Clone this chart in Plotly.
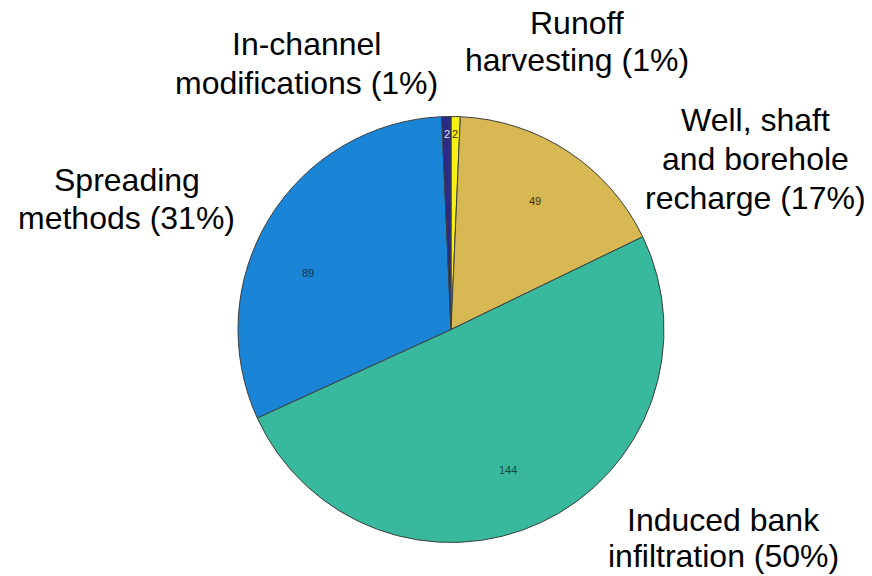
import math
import plotly.graph_objects as go

# Managed aquifer recharge schemes by type (number of sites)
categories = [
    "Runoff harvesting",
    "Well, shaft and borehole recharge",
    "Induced bank infiltration",
    "Spreading methods",
    "In-channel modifications",
]
counts = [2, 49, 144, 89, 2]
colors = ["#F6F013", "#D8B853", "#38B89C", "#1A85D6", "#2B2A86"]
value_text_colors = ["#35350c", "#3e3210", "#174a3f", "#0b3260", "#e6e6f2"]

# Label lines shown around the pie (percent appended from the counts)
label_lines = [
    ["Runoff", "harvesting"],
    ["Well, shaft", "and borehole", "recharge"],
    ["Induced bank", "infiltration"],
    ["Spreading", "methods"],
    ["In-channel", "modifications"],
]

W, H = 872, 576
CX, CY, R = 451, 329.5, 213  # pie centre and radius in pixels
total = sum(counts)
percents = [round(c / total * 100) for c in counts]

fig = go.Figure()
fig.add_trace(
    go.Pie(
        labels=categories,
        values=counts,
        sort=False,
        direction="clockwise",
        rotation=0,
        marker=dict(colors=colors, line=dict(color="#3c3f3f", width=1)),
        textinfo="none",
        showlegend=False,
        hoverinfo="label+value+percent",
        domain=dict(x=[(CX - R) / W, (CX + R) / W],
                    y=[1 - (CY + R) / H, 1 - (CY - R) / H]),
    )
)

# Count labels inside each slice, placed along the slice's mid-angle
radial_frac = [0.92, 0.72, 0.71, 0.72, 0.92]
angle_nudge = [0, 0, 3, -10, 0]
start = 0.0
for c, col, frac, nudge in zip(counts, value_text_colors, radial_frac, angle_nudge):
    sweep = c / total * 360
    mid = math.radians(start + sweep / 2 + nudge)
    start += sweep
    px = CX + frac * R * math.sin(mid)
    py = CY - frac * R * math.cos(mid)
    fig.add_annotation(
        text=str(c),
        xref="paper", yref="paper",
        x=px / W, y=1 - py / H,
        xanchor="center", yanchor="middle",
        showarrow=False,
        font=dict(family="Liberation Sans, Arial", size=11, color=col),
    )

# Outside label placement: (center x, first line center y, line step) in pixels
label_pos = [
    (577, 23, 37),
    (755, 120, 39),
    (723, 520, 36),
    (127, 180, 38),
    (306, 44, 39),
]

for lines, pct, (px, py, step) in zip(label_lines, percents, label_pos):
    lines = lines[:-1] + [f"{lines[-1]} ({pct}%)"]
    for i, line in enumerate(lines):
        fig.add_annotation(
            text=line,
            xref="paper", yref="paper",
            x=px / W, y=1 - (py + i * step) / H,
            xanchor="center", yanchor="middle",
            showarrow=False,
            font=dict(family="Liberation Sans, Arial", size=32, color="#000000"),
        )

fig.update_layout(
    width=W, height=H,
    margin=dict(l=0, r=0, t=0, b=0),
    paper_bgcolor="#ffffff",
    plot_bgcolor="#ffffff",
)

fig.write_html("out.html")
